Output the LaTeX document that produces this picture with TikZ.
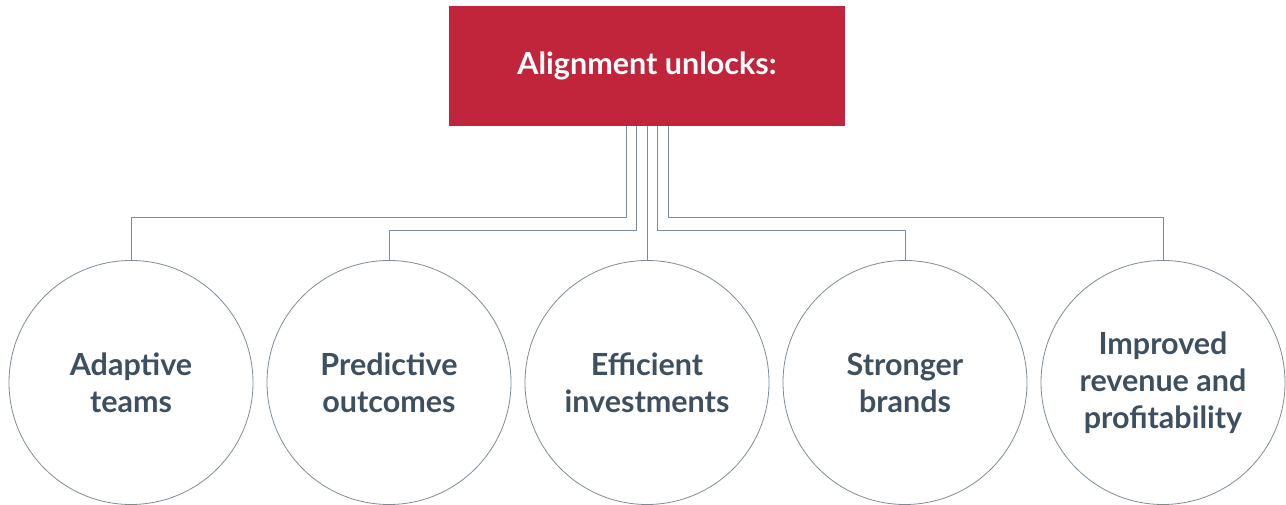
\documentclass[tikz,border=0pt]{standalone}
\usepackage{fontspec}
\setmainfont{Lato}
\usepackage{tikz}
\definecolor{alignred}{HTML}{C0253B}
\definecolor{slate}{HTML}{3E4F5F}
\definecolor{wiregray}{HTML}{7D8B97}
\begin{document}
\begin{tikzpicture}[x=1pt, y=1pt,
   head/.style = {fill=alignred, minimum width=396pt, minimum height=120pt,
                  text=white, font=\bfseries\fontsize{30.5}{36}\selectfont},
outcome/.style = {circle, draw=wiregray, line width=0.8pt, minimum size=244pt,
                  inner sep=0pt, text=slate, align=center,
                  font=\bfseries\fontsize{30.5}{37}\selectfont},
   wire/.style = {draw=wiregray, line width=1pt}
                        ]
\useasboundingbox (0,0) rectangle (1286,505);
% header
    \node[head] (head) at (647,439) {Alignment unlocks:};
% outcomes
    \node[outcome] (adapt)  at (131,122.5)  {Adaptive\\teams};
    \node[outcome] (predict) at (389,122.5) {Predictive\\outcomes};
    \node[outcome] (invest) at (647,122.5)  {Efficient\\investments};
    \node[outcome] (brand)  at (905,122.5)  {Stronger\\brands};
    \node[outcome] (profit) at (1163,122.5) {Improved\\revenue and\\profitability};
% feet of the wires
\coordinate (f1) at ([xshift=-21pt]head.south);
\coordinate (f2) at ([xshift=-10.5pt]head.south);
\coordinate (f4) at ([xshift=10.5pt]head.south);
\coordinate (f5) at ([xshift=21pt]head.south);
% wires
    \draw[wire] (f1) -- ++(0,-91) -| (adapt.north);
    \draw[wire] (f2) -- ++(0,-104) -| (predict.north);
    \draw[wire] (head.south) -- (invest.north);
    \draw[wire] (f4) -- ++(0,-104) -| (brand.north);
    \draw[wire] (f5) -- ++(0,-91) -| (profit.north);
\end{tikzpicture}
\end{document}
